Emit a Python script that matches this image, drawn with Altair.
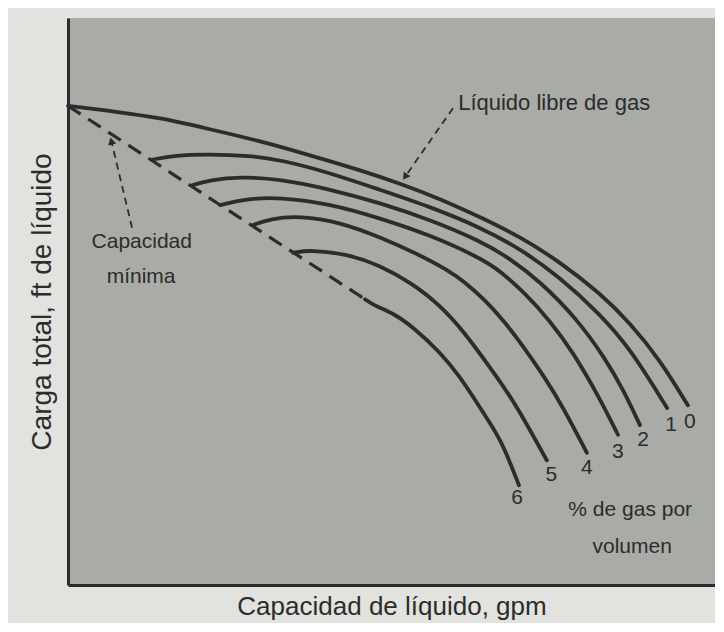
import altair as alt
import pandas as pd

# ---- data (capacity, head) in relative units 0-100 ----
gas_pct = ["0", "1", "2", "3", "4", "5", "6"]

x0 = [0, 8, 14.2, 21.9, 29.7, 37.4, 45.1, 51.6, 57.5, 63.7, 69.9, 76.0, 82.2, 86.9, 91.5, 95.8]
y0 = [84.5, 83.4, 82.4, 80.4, 78.3, 75.8, 73.2, 70.7, 68.1, 64.9, 61.4, 57.0, 51.5, 46.2, 39.7, 31.7]

x1 = [13.0, 16.5, 21.9, 28.1, 32.8, 40.5, 48.2, 56.0, 63.7, 69.9, 76.0, 82.2, 86.9, 92.6]
y1 = [75.0, 75.8, 76.0, 75.7, 75.0, 72.7, 69.7, 66.7, 63.1, 59.3, 54.3, 47.8, 41.7, 31.2]

x2 = [19.2, 21.9, 26.6, 32.8, 40.5, 48.2, 56.0, 63.7, 68.3, 73.0, 78.7, 83.0, 85.8, 88.4]
y2 = [70.5, 71.4, 72.0, 71.6, 69.8, 67.4, 64.4, 60.7, 57.6, 53.5, 46.9, 40.0, 34.5, 28.2]

x3 = [23.5, 27.4, 32.8, 40.5, 48.2, 56.0, 63.7, 66.8, 70.6, 74.5, 78.1, 82.2, 85.0]
y3 = [67.0, 68.1, 68.4, 67.2, 64.7, 61.7, 57.7, 55.4, 51.5, 46.6, 41.0, 32.9, 26.5]

x4 = [28.6, 31.2, 35.9, 42.0, 48.2, 54.4, 58.6, 61.4, 64.5, 67.5, 70.3, 73.7, 76.5, 80.2]
y4 = [63.5, 64.6, 65.1, 64.0, 61.4, 58.2, 55.6, 53.4, 50.2, 46.4, 42.2, 36.6, 31.4, 23.3]

x5 = [34.8, 37.4, 43.1, 48.2, 52.9, 57.5, 61.4, 65.2, 68.0, 70.3, 74.0]
y5 = [58.6, 59.1, 58.4, 56.4, 53.4, 49.4, 44.4, 38.4, 33.9, 29.6, 22.0]

x6 = [45.9, 47.3, 50.5, 53.3, 57.5, 60.6, 62.6, 65.2, 66.8, 68.3, 69.7]
y6 = [50.4, 49.3, 47.8, 45.5, 41.1, 36.7, 33.2, 28.6, 25.6, 21.7, 17.6]

# minimum-capacity (dashed) line
min_x = [0, 45.9]
min_y = [84.5, 50.4]

# curve labels
label_x = [96.1, 93.2, 88.9, 85.0, 80.2, 74.7, 69.4]
label_y = [28.7, 28.2, 25.6, 23.5, 20.6, 19.4, 15.3]

# annotation texts
note_text = ["Líquido libre de gas", "Capacidad", "mínima", "% de gas por", "volumen"]
note_x = [60.3, 11.4, 11.3, 86.9, 87.2]
note_y = [85.0, 60.5, 54.3, 13.2, 6.7]
note_size = [22, 21, 21, 21, 21]
note_align = ["left", "center", "center", "center", "center"]

# annotation arrows (tail -> head)
arrow_name = ["libre", "minima"]
arrow_x1 = [59.5, 9.9]
arrow_y1 = [84.1, 63.0]
arrow_x2 = [52.1, 6.7]
arrow_y2 = [72.0, 78.3]
arrow_angle = [215, 346]

# ---- build tables ----
xs = [x0, x1, x2, x3, x4, x5, x6]
ys = [y0, y1, y2, y3, y4, y5, y6]
rows = []
for g, xx, yy in zip(gas_pct, xs, ys):
    for i, (a, b) in enumerate(zip(xx, yy)):
        rows.append({"gas": g, "i": i, "x": a, "y": b})
curves = pd.DataFrame(rows)
mincap = pd.DataFrame({"x": min_x, "y": min_y, "i": [0, 1]})
labels = pd.DataFrame({"x": label_x, "y": label_y, "t": gas_pct})
notes = pd.DataFrame({"x": note_x, "y": note_y, "t": note_text, "a": note_align, "s": note_size})
arrow_lines_df = pd.DataFrame({"name": arrow_name, "x": arrow_x1, "y": arrow_y1,
                               "x2": arrow_x2, "y2": arrow_y2})
arrow_heads_df = pd.DataFrame({"name": arrow_name, "x": arrow_x2, "y": arrow_y2,
                               "ang": arrow_angle})

FONT = "Liberation Sans Narrow, Liberation Sans, Arial"
INK = "#2c2c2c"

xscale = alt.Scale(domain=[0, 100], nice=False, zero=False)
yscale = alt.Scale(domain=[0, 100], nice=False, zero=False)
xaxis = alt.Axis(title="Capacidad de líquido, gpm", labels=False, ticks=False,
                 grid=False, domainColor=INK, domainWidth=3,
                 titleFont=FONT, titleFontSize=26, titleFontWeight="normal",
                 titleColor=INK, titlePadding=8)
yaxis = alt.Axis(title="Carga total, ft de líquido", labels=False, ticks=False,
                 grid=False, domainColor=INK, domainWidth=3,
                 titleFont=FONT, titleFontSize=28, titleFontWeight="normal",
                 titleColor=INK, titlePadding=12)
xenc = alt.X("x:Q", scale=xscale, axis=xaxis)
yenc = alt.Y("y:Q", scale=yscale, axis=yaxis)

curve_layer = alt.Chart(curves).mark_line(
    color=INK, strokeWidth=3.8, interpolate="basis", strokeCap="round"
).encode(x=xenc, y=yenc, detail="gas:N", order="i:Q")

min_layer = alt.Chart(mincap).mark_line(
    color=INK, strokeWidth=3.2, strokeDash=[15, 9]
).encode(x=xenc, y=yenc, order="i:Q")

arrow_lines = alt.Chart(arrow_lines_df).mark_rule(
    color=INK, strokeWidth=1.8, strokeDash=[7, 5]
).encode(x=xenc, y=yenc, x2="x2:Q", y2="y2:Q")

arrow_heads = alt.Chart(arrow_heads_df).mark_point(
    shape="triangle-up", filled=True, color=INK, size=70, opacity=1
).encode(x=xenc, y=yenc, angle=alt.Angle("ang:Q", scale=None))

label_layer = alt.Chart(labels).mark_text(
    font=FONT, fontSize=21, color=INK, align="center", baseline="middle"
).encode(x=xenc, y=yenc, text="t:N")

note_left = alt.Chart(notes[notes.a == "left"]).mark_text(
    font=FONT, color=INK, align="left", baseline="middle"
).encode(x=xenc, y=yenc, text="t:N", size=alt.Size("s:Q", scale=None, legend=None))

note_center = alt.Chart(notes[notes.a == "center"]).mark_text(
    font=FONT, color=INK, align="center", baseline="middle"
).encode(x=xenc, y=yenc, text="t:N", size=alt.Size("s:Q", scale=None, legend=None))

chart = alt.layer(
    min_layer, curve_layer, arrow_lines, arrow_heads, label_layer, note_left, note_center
).properties(
    width=647, height=567,
    autosize=alt.AutoSizeParams(type="none"),
    padding={"left": 60, "top": 10, "right": 0, "bottom": 38},
    background="#e2e2de",
).configure_view(
    fill="#a9aba6", stroke=None
)

chart.save("out.html", embed_options={"renderer": "svg", "actions": False})
